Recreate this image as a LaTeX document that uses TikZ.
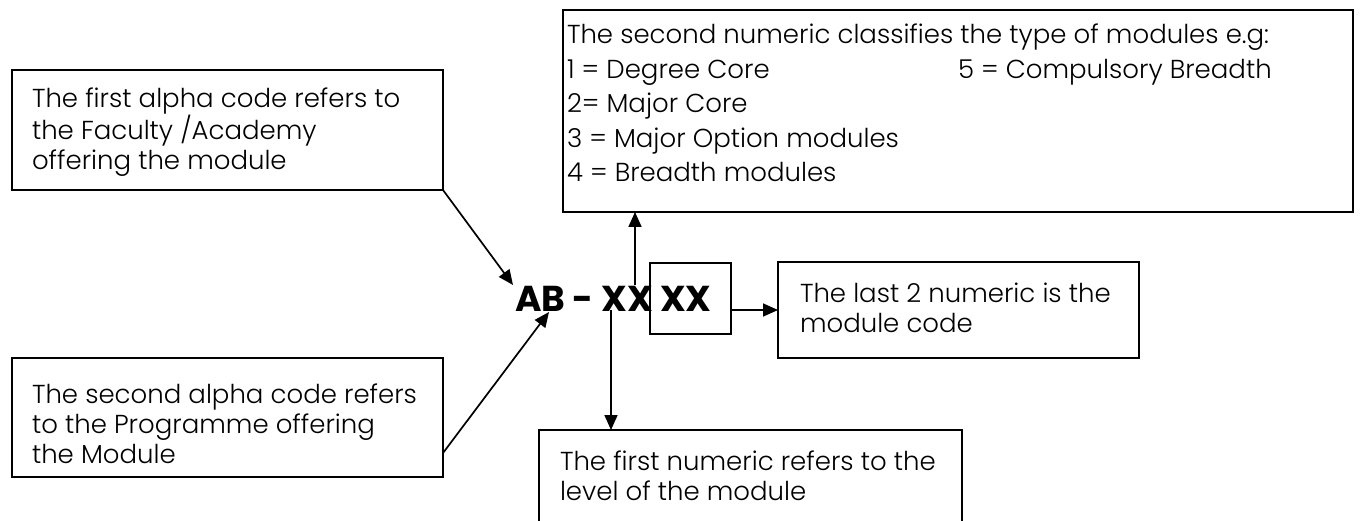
\documentclass[tikz,border=0pt]{standalone}
\usepackage{fontspec}
\setmainfont{Poppins}[UprightFont={* Light}, BoldFont={* Bold}]
\usetikzlibrary{arrows.meta,calc}
\begin{document}
\begin{tikzpicture}[x=1pt,y=-1pt,
  box/.style={draw, line width=1.5pt, inner sep=0pt, outer sep=0pt},
  txt/.style={anchor=base west, align=left, inner sep=0pt, outer sep=0pt,
              font=\fontsize{26}{30}\selectfont},
  txtE/.style={txt, font=\fontsize{26}{34.5}\selectfont},
  big/.style={inner sep=0pt, outer sep=0pt, font=\fontsize{36}{40}\selectfont\bfseries},
  arr/.style={line width=1.7pt, -{Triangle[length=15pt,width=13pt]}}]
\useasboundingbox (0,0) rectangle (1360,521);

% boxes
\node[box, minimum width=431pt, minimum height=120pt] (boxA) at (227.5,130) {};
\node[box, minimum width=431pt, minimum height=119pt] (boxB) at (227.5,417.5) {};
\node[box, minimum width=790pt, minimum height=202pt] (boxE) at (958,111) {};
\node[box, minimum width=361pt, minimum height=96pt] (boxC) at (958.5,310) {};
\node[box, minimum width=423pt, minimum height=130pt] (boxD) at (750.5,495) {};
\node[box, minimum width=81pt, minimum height=71pt] (boxX) at (690.5,298.5) {};

% texts (anchored at the baseline of the last line)
\node[txt] (tA) at (32,170) {The first alpha code refers to\\the Faculty /Academy\\offering the module};
\node[txt] (tB) at (32,463) {The second alpha code refers\\to the Programme offering\\the Module};
\node[txtE] (tE) at (567,182) {The second numeric classifies the type of modules e.g:\\\makebox[391pt][l]{1 = Degree Core}5 = Compulsory Breadth\\2= Major Core\\3 = Major Option modules\\4 = Breadth modules};
\node[txt] (tC) at (800,332) {The last 2 numeric is the\\module code};
\node[txt] (tD) at (560,500) {The first numeric refers to the\\level of the module};

% code
\node[big, anchor=base west] (ab) at (515,312) {AB - XX};
\node[big, anchor=base west] (xx) at (660,312) {XX};

% connector end points
\coordinate (tipA) at (513,285);
\coordinate (tipB) at (549,312);
\coordinate (upS) at (635,285);
\coordinate (dnS) at (611,310);

\draw[arr] (boxA.south east) -- (tipA);
\draw[arr] ($(boxB.south east)+(0,-24)$) -- (tipB);
\draw[arr] (upS) -- (upS |- boxE.south);
\draw[arr] (dnS) -- (dnS |- boxD.north);
\draw[arr] (boxX.east |- dnS) -- (boxC.west |- dnS);
\end{tikzpicture}
\end{document}
